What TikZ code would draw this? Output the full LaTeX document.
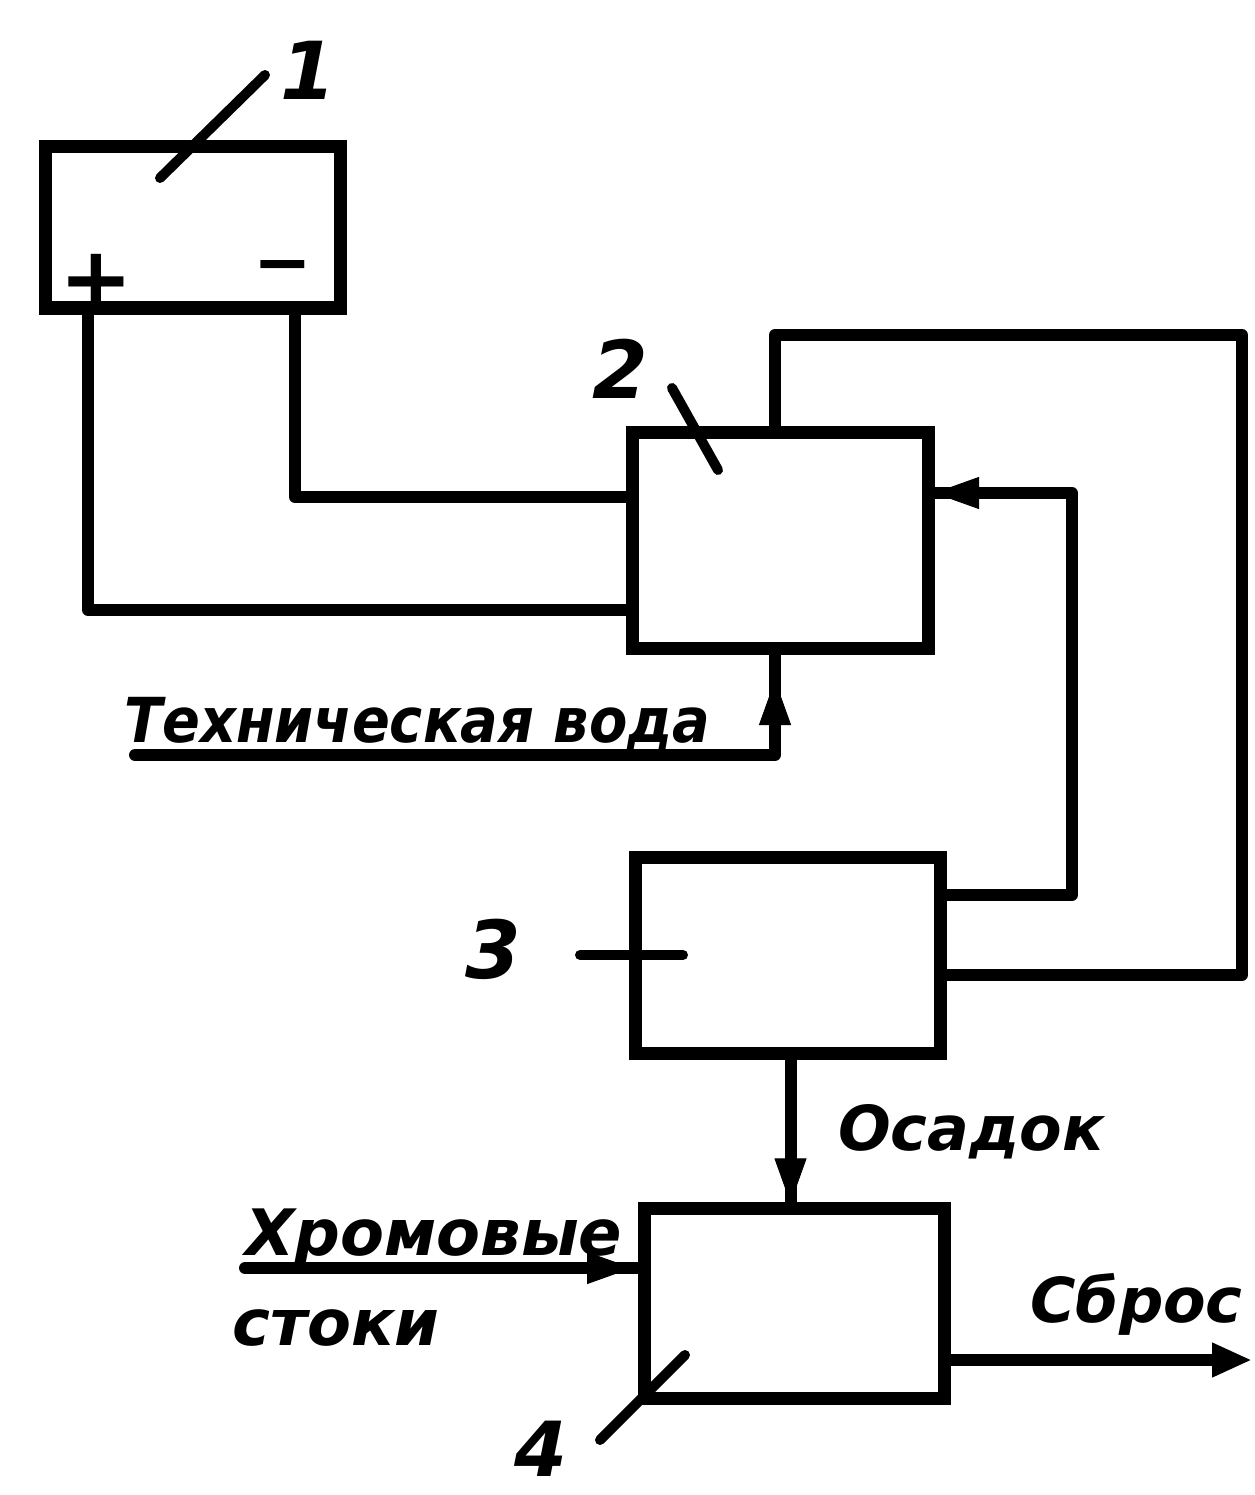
\documentclass[tikz,border=0pt]{standalone}
\usepackage{fontspec}
\setmainfont{DejaVu Sans}
\usetikzlibrary{arrows.meta,decorations.markings}
\tikzset{
  blk/.style={draw, line width=13pt, rectangle, inner sep=0pt, outer sep=0pt},
  wire/.style={line width=12pt, line cap=round, line join=round},
  leader/.style={line width=10pt, line cap=round},
  hand/.style={font=\bfseries\itshape\fontsize{#1}{#1}\selectfont, inner sep=0pt},
  midarrow/.style={postaction={decorate}, decoration={markings,
      mark=at position #1 with {\arrow[line width=1pt]{Triangle[length=45pt,width=32pt]}}}}
}
\begin{document}
\begin{tikzpicture}[x=1pt,y=-1pt]
\useasboundingbox[fill=white] (0,0) rectangle (1254,1495);

% blocks
\node[blk, minimum width=295pt, minimum height=161pt] (b1) at (192.5,227.5) {};
\node[blk, minimum width=296pt, minimum height=216pt] (b2) at (780,540) {};
\node[blk, minimum width=305pt, minimum height=196pt] (b3) at (787.5,955) {};
\node[blk, minimum width=300pt, minimum height=190pt] (b4) at (794,1303) {};

% terminals of block 1
\node[hand=88pt] (plus) at (96,282) {+};
\node[hand=70pt] (minus) at (283,274) {−};

% wires from block 1 to block 2
\draw[wire] ([xshift=43pt]b1.south west) |- ([yshift=-70pt]b2.west);
\draw[wire] ([xshift=250pt]b1.south west) |- ([yshift=43pt]b2.west);

% top loop from block 2 to block 3
\coordinate (c1) at (1242,335);
\draw[wire] ([xshift=-5pt]b2.north) |- (c1) |- ([yshift=-20pt]b3.east);

% return from block 3 to block 2
\coordinate (c2) at (1072,493);
\draw[wire, midarrow=672pt] ([yshift=60pt]b3.east) -| (c2) -- (c2 -| b2.east);

% technical water
\coordinate (tw) at (135,755);
\draw[wire, midarrow=715pt] (tw) -| ([xshift=-5pt]b2.south);
\node[hand=62pt, anchor=base west] (twl) at (124,742) {\scalebox{0.9}[1]{Техническая вода}};

% sediment
\draw[wire, midarrow=0.97] ([xshift=3pt]b3.south) -- ([xshift=3pt]b3.south |- b4.north);
\node[hand=62pt, anchor=base west] (osl) at (838,1150) {Осадок};

% chromium effluent
\coordinate (hs) at (245,1268);
\draw[wire, midarrow=0.97] (hs) -- ([yshift=35pt]b4.west);
\node[hand=64pt, anchor=base west] (hsl1) at (245,1255) {Хромовые};
\node[hand=64pt, anchor=base west] (hsl2) at (232,1345) {стоки};

% discharge
\coordinate (sb) at (1252,1360);
\draw[wire, -{Triangle[length=40pt,width=32pt]}] ([yshift=-57pt]b4.east) -- (sb);
\node[hand=62pt, anchor=base west] (sbl) at (1030,1322) {Сброс};

% leaders and numbers
\coordinate (l1) at (265,75);
\draw[leader] (160,178) -- (l1);
\node[hand=80pt, anchor=base west] (n1) at (280,100) {1};

\coordinate (l2) at (672,388);
\draw[leader] (l2) -- (718,470);
\node[hand=80pt, anchor=base west] (n2) at (592,398) {2};

\coordinate (l3) at (580,955);
\draw[leader] (l3) -- (683,955);
\node[hand=80pt, anchor=base west] (n3) at (465,978) {3};

\coordinate (l4) at (600,1440);
\draw[leader] (685,1355) -- (l4);
\node[hand=76pt, anchor=base west] (n4) at (514,1476) {4};
\end{tikzpicture}
\end{document}
